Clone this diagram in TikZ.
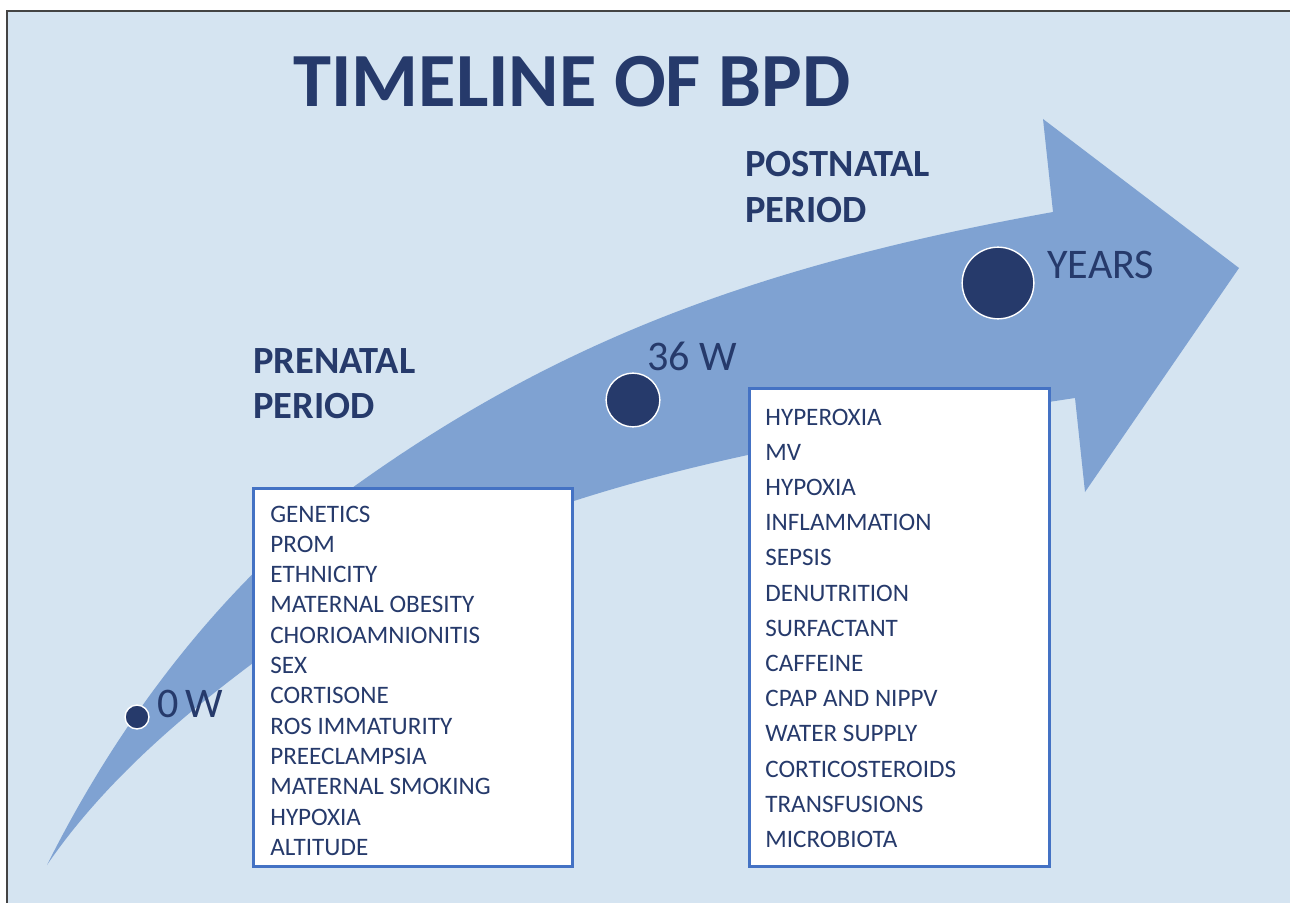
\documentclass[tikz,border=0pt]{standalone}
\usepackage{fontspec}
\setmainfont{Carlito}
\definecolor{bgblue}{HTML}{D5E4F1}
\definecolor{arrowblue}{HTML}{7FA2D2}
\definecolor{navy}{HTML}{263A6B}
\definecolor{boxline}{HTML}{4472C4}
\definecolor{framegray}{HTML}{444444}
\tikzset{
  titletext/.style={text=navy, font=\fontsize{43.6}{50}\selectfont\bfseries, inner sep=0pt},
  periodtext/.style={text=navy, font=\fontsize{21.9}{26}\selectfont\bfseries, inner sep=0pt},
  marktext/.style={text=navy, font=\fontsize{24}{28}\selectfont, inner sep=0pt},
  itemtext/.style={text=navy, font=\fontsize{14.3}{17}\selectfont, inner sep=0pt},
  listbox/.style={draw=boxline, line width=1.7pt, fill=white, rectangle, inner sep=0pt},
  dot/.style={circle, fill=navy, draw=white, line width=0.8pt, inner sep=0pt},
}
\begin{document}
\begin{tikzpicture}[x=0.02cm, y=-0.02cm]
\useasboundingbox (0,0) rectangle (1290,902);
% page background and frame
\fill[white] (0,0) rectangle (1290,902);
\fill[bgblue] (7,11) rectangle (1295,910);
\draw[framegray, line width=1.2pt] (7,910) -- (7,11) -- (1295,11);

% curved timeline arrow
\fill[arrowblue]
  (47,865) .. controls (147,665) and (272,546) .. (352,488)
           .. controls (552,344) and (753,266) .. (1053,212)
  -- (1043,119) -- (1239,268) -- (1085,492) -- (1075,398)
           .. controls (725,450.5) and (473,498) .. (253,663)
           .. controls (193,708) and (107,777) .. (47,865)
  -- cycle;

% title
\node[titletext, anchor=base west] (title) at (293,107) {TIMELINE OF BPD};

% period headings
\node[periodtext, anchor=base west] (pre1) at (253,373) {PRENATAL};
\node[periodtext, anchor=base west] (pre2) at (253,418) {PERIOD};
\node[periodtext, anchor=base west] (post1) at (745,176) {POSTNATAL};
\node[periodtext, anchor=base west] (post2) at (745,222) {PERIOD};

% milestones on the arrow
\node[dot, minimum size=13.6pt] (d0) at (137,717) {};
\node[dot, minimum size=30.6pt] (d36) at (633,400) {};
\node[dot, minimum size=40.8pt] (dy) at (998,283) {};
\node[marktext, anchor=base west] (l0) at (157,717) {0\,W};
\node[marktext, anchor=base west] (l36) at (647,370) {36 W};
\node[marktext, anchor=base west] (ly) at (1047,278) {YEARS};

% prenatal factors
\node[listbox, minimum width=181.4pt, minimum height=215pt, anchor=north west] (prebox) at (252,487) {};
\foreach \t [count=\i] in {GENETICS, PROM, ETHNICITY, MATERNAL OBESITY, CHORIOAMNIONITIS, SEX, CORTISONE, ROS IMMATURITY, PREECLAMPSIA, MATERNAL SMOKING, HYPOXIA, ALTITUDE}
  \node[itemtext, anchor=base west] (pre-\i) at (270,{522+30.3*(\i-1)}) {\t};

% postnatal factors
\node[listbox, minimum width=170.7pt, minimum height=272pt, anchor=north west] (postbox) at (748,387) {};
\foreach \t [count=\i] in {HYPEROXIA, MV, HYPOXIA, INFLAMMATION, SEPSIS, DENUTRITION, SURFACTANT, CAFFEINE, CPAP AND NIPPV, WATER SUPPLY, CORTICOSTEROIDS, TRANSFUSIONS, MICROBIOTA}
  \node[itemtext, anchor=base west] (post-\i) at (765,{425+35.2*(\i-1)}) {\t};
\end{tikzpicture}
\end{document}
